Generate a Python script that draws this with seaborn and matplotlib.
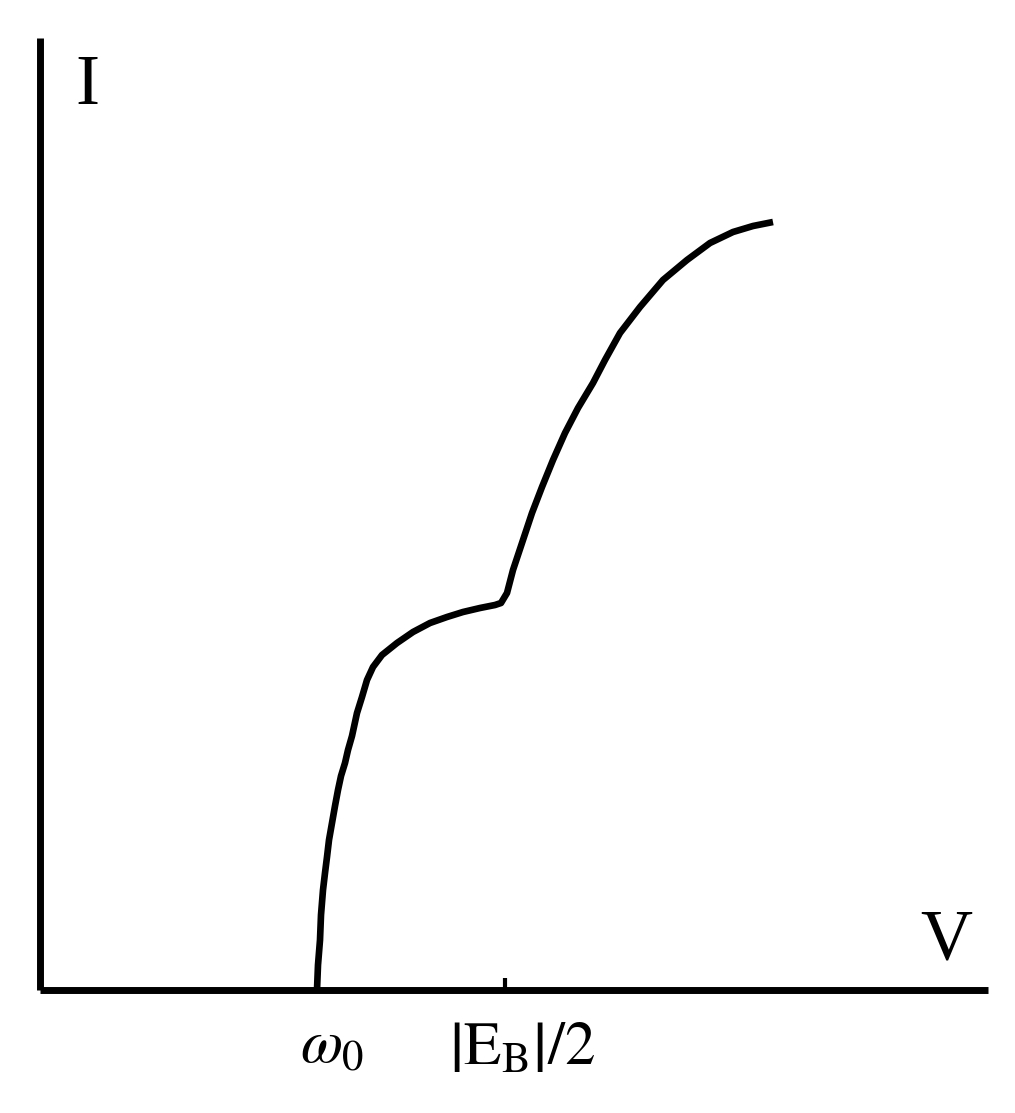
import matplotlib
matplotlib.use("Agg")
import matplotlib.pyplot as plt
import seaborn as sns

# Schematic I–V curve (arbitrary units)
voltage = [277, 278, 280, 281, 283, 285, 287, 289, 292, 295,
           298, 301, 305, 308, 312, 317, 322, 327, 333, 342,
           357, 373, 390, 407, 423, 440, 455, 461, 467, 473,
           482, 492, 502, 513, 525, 538, 553, 565, 580, 600,
           623, 647, 670, 693, 713, 733]
current = [0, 25, 50, 75, 100, 117, 133, 150, 167, 184,
           200, 214, 227, 240, 254, 277, 293, 310, 323, 335,
           347, 358, 367, 373, 378, 382, 385, 387, 397, 420,
           447, 477, 503, 530, 557, 582, 607, 630, 657, 683,
           710, 730, 747, 758, 764, 768]
omega0_pos = 277
eb_half_pos = 465
tick_labels = [r"$\omega_0$", r"$\left|\mathrm{E}_{\mathrm{B}}\right|/2$"]
axis_labels = ["I", "V"]

sns.set_theme(style="white")
plt.rcParams["font.family"] = ["Liberation Serif", "DejaVu Serif"]
plt.rcParams["mathtext.fontset"] = "stix"
plt.rcParams["text.color"] = "black"

fig = plt.figure(figsize=(10.15, 11.13), dpi=100)
ax = fig.add_axes([40 / 1015, (1113 - 990) / 1113, 948 / 1015, 952 / 1113])

sns.lineplot(x=voltage, y=current, sort=False, estimator=None, ax=ax,
             color="black", linewidth=4.8, solid_joinstyle="round",
             solid_capstyle="butt")

ax.set_xlim(0, 948)
ax.set_ylim(0, 952)
for s in ["top", "right"]:
    ax.spines[s].set_visible(False)
for s in ["left", "bottom"]:
    ax.spines[s].set_color("black")
    ax.spines[s].set_linewidth(5)
    ax.spines[s].set_capstyle("butt")

ax.set_yticks([])
ax.set_xticks([eb_half_pos])
ax.set_xticklabels([""])
ax.tick_params(axis="x", direction="in", length=9, width=3, color="black",
               bottom=True)

ax.text(omega0_pos + 15, -58, tick_labels[0], fontsize=44, ha="center",
        va="center", clip_on=False, color="black")
ax.text(482, -60, tick_labels[1], fontsize=44, ha="center", va="center",
        clip_on=False, color="black")
ax.text(47, 904, axis_labels[0], fontsize=52, ha="center", va="center",
        color="black")
ax.text(906, 49, axis_labels[1], fontsize=52, ha="center", va="center",
        color="black")

fig.savefig("out.png", dpi=100, facecolor="white")
